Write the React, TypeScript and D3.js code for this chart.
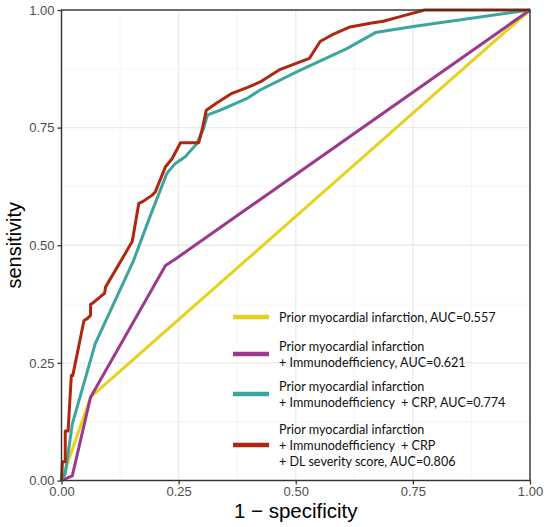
import React, { useEffect, useRef } from "react";
import * as d3 from "d3";

// ROC curves: false positive rate (1 - specificity) and sensitivity
const priorMiFpr = [0, 0.062, 1];
const priorMiTpr = [0, 0.177, 1];

const immunoFpr = [0, 0.023, 0.062, 0.222, 0.245, 1];
const immunoTpr = [0, 0.01, 0.177, 0.457, 0.472, 1];

const crpFpr = [
  0, 0.008, 0.023, 0.072, 0.154, 0.19, 0.225, 0.243, 0.264, 0.289, 0.303,
  0.312, 0.339, 0.396, 0.424, 0.503, 0.609, 0.67, 0.751, 1,
];
const crpTpr = [
  0, 0.015, 0.12, 0.291, 0.468, 0.564, 0.653, 0.674, 0.688, 0.716, 0.748,
  0.777, 0.787, 0.812, 0.83, 0.869, 0.918, 0.952, 0.965, 1,
];

const dlFpr = [
  0, 0.002, 0.008, 0.008, 0.014, 0.021, 0.024, 0.048, 0.055, 0.062, 0.062,
  0.069, 0.087, 0.092, 0.094, 0.151, 0.165, 0.172, 0.193, 0.2, 0.222, 0.236,
  0.254, 0.293, 0.3, 0.309, 0.332, 0.364, 0.396, 0.424, 0.467, 0.529, 0.552,
  0.577, 0.616, 0.659, 0.687, 0.723, 0.775, 1,
];
const dlTpr = [
  0, 0.04, 0.04, 0.105, 0.105, 0.223, 0.223, 0.34, 0.344, 0.351, 0.374,
  0.379, 0.394, 0.398, 0.411, 0.508, 0.589, 0.592, 0.606, 0.613, 0.667, 0.684,
  0.718, 0.718, 0.745, 0.787, 0.803, 0.823, 0.835, 0.847, 0.874, 0.897, 0.933,
  0.947, 0.964, 0.972, 0.976, 0.986, 1, 1,
];

const majorTicks = [0, 0.25, 0.5, 0.75, 1];
const minorTicks = [0.125, 0.375, 0.625, 0.875];

const curves = [
  {
    fpr: priorMiFpr,
    tpr: priorMiTpr,
    color: "#E6D21C",
    label: ["Prior myocardial infarction, AUC=0.557"],
  },
  {
    fpr: immunoFpr,
    tpr: immunoTpr,
    color: "#9B3A8C",
    label: ["Prior myocardial infarction", "+ Immunodefficiency, AUC=0.621"],
  },
  {
    fpr: crpFpr,
    tpr: crpTpr,
    color: "#3AA69D",
    label: [
      "Prior myocardial infarction",
      "+ Immunodefficiency  + CRP, AUC=0.774",
    ],
  },
  {
    fpr: dlFpr,
    tpr: dlTpr,
    color: "#B0270F",
    label: [
      "Prior myocardial infarction",
      "+ Immunodefficiency  + CRP",
      "+ DL severity score, AUC=0.806",
    ],
  },
];

const width = 550;
const height = 527;
const left = 61.5;
const right = 530;
const top = 10;
const bottom = 480.5;

export default function App() {
  const ref = useRef<SVGSVGElement>(null);

  useEffect(() => {
    const svg = d3.select(ref.current);
    svg.selectAll("*").remove();

    const x = d3.scaleLinear().domain([0, 1]).range([left, right]);
    const y = d3.scaleLinear().domain([0, 1]).range([bottom, top]);

    // grid
    const grid = svg.append("g");
    const gridLines = (ticks: number[], color: string, w: number) => {
      grid
        .append("g")
        .selectAll("line")
        .data(ticks)
        .join("line")
        .attr("x1", (d) => x(d))
        .attr("x2", (d) => x(d))
        .attr("y1", top)
        .attr("y2", bottom)
        .attr("stroke", color)
        .attr("stroke-width", w);
      grid
        .append("g")
        .selectAll("line")
        .data(ticks)
        .join("line")
        .attr("y1", (d) => y(d))
        .attr("y2", (d) => y(d))
        .attr("x1", left)
        .attr("x2", right)
        .attr("stroke", color)
        .attr("stroke-width", w);
    };
    gridLines(minorTicks, "#F3F3F3", 0.8);
    gridLines(majorTicks, "#EBEBEB", 1.3);

    // curves
    const line = d3
      .line<[number, number]>()
      .x((d) => x(d[0]))
      .y((d) => y(d[1]));

    svg
      .append("g")
      .selectAll("path")
      .data(curves)
      .join("path")
      .attr("d", (c) => line(c.fpr.map((f, i) => [f, c.tpr[i]])))
      .attr("fill", "none")
      .attr("stroke", (c) => c.color)
      .attr("stroke-width", 3)
      .attr("stroke-linejoin", "round");

    // panel border
    svg
      .append("rect")
      .attr("x", left)
      .attr("y", top)
      .attr("width", right - left)
      .attr("height", bottom - top)
      .attr("fill", "none")
      .attr("stroke", "#333333")
      .attr("stroke-width", 1.4);

    // axes
    const xAxis = svg
      .append("g")
      .attr("transform", `translate(0,${bottom})`)
      .call(
        d3
          .axisBottom(x)
          .tickValues(majorTicks)
          .tickFormat(d3.format(".2f"))
          .tickSize(4)
          .tickPadding(2),
      );
    const yAxis = svg
      .append("g")
      .attr("transform", `translate(${left},0)`)
      .call(
        d3
          .axisLeft(y)
          .tickValues(majorTicks)
          .tickFormat(d3.format(".2f"))
          .tickSize(4)
          .tickPadding(3),
      );
    [xAxis, yAxis].forEach((a) => {
      a.select(".domain").remove();
      a.selectAll(".tick line").attr("stroke", "#333333").attr("stroke-width", 1.3);
      a.selectAll(".tick text")
        .attr("fill", "#4D4D4D")
        .style("font-family", "Liberation Sans, Arial, sans-serif")
        .style("font-size", "13px");
    });

    // axis titles
    svg
      .append("text")
      .attr("x", (left + right) / 2)
      .attr("y", 518)
      .attr("text-anchor", "middle")
      .style("font-family", "Liberation Sans, Arial, sans-serif")
      .style("font-size", "20.5px")
      .attr("fill", "#000")
      .text("1 − specificity");
    svg
      .append("text")
      .attr("transform", `translate(21,${(top + bottom) / 2}) rotate(-90)`)
      .attr("text-anchor", "middle")
      .style("font-family", "Liberation Sans, Arial, sans-serif")
      .style("font-size", "20px")
      .attr("fill", "#000")
      .text("sensitivity");

    // legend
    const keyY = [317, 354, 394, 445];
    const legend = svg.append("g");
    curves.forEach((c, i) => {
      legend
        .append("line")
        .attr("x1", 233)
        .attr("x2", 269)
        .attr("y1", keyY[i])
        .attr("y2", keyY[i])
        .attr("stroke", c.color)
        .attr("stroke-width", 4.5);
      const n = c.label.length;
      c.label.forEach((t, j) => {
        legend
          .append("text")
          .attr("x", 279)
          .attr("y", keyY[i] + 4.5 + (j - (n - 1) / 2) * 16)
          .style("font-family", "Lato, 'Open Sans', sans-serif")
          .style("font-size", "12.6px")
          .style("white-space", "pre")
          .attr("fill", "#111")
          .text(t);
      });
    });
  }, []);

  return (
    <svg
      ref={ref}
      width={width}
      height={height}
      style={{
        display: "block",
        position: "fixed",
        top: 0,
        left: 0,
        background: "#fff",
      }}
    />
  );
}
